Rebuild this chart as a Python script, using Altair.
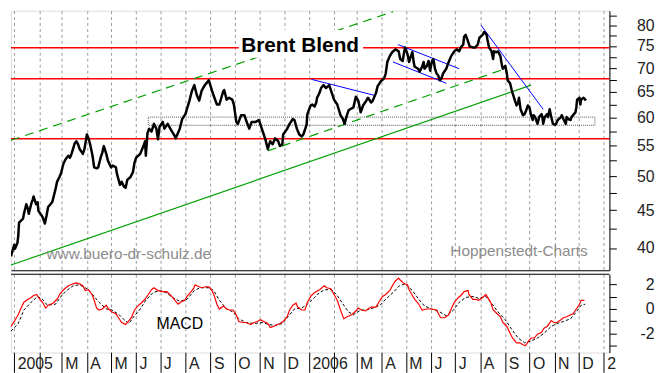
import altair as alt
import pandas as pd

# ---------------- data ----------------
price_series = [
    ("2004-12-28", 38.97), ("2004-12-31", 40.03), ("2005-01-01", 40.40), ("2005-01-02", 39.91),
    ("2005-01-05", 40.64), ("2005-01-06", 41.51), ("2005-01-07", 43.29), ("2005-01-12", 43.82),
    ("2005-01-13", 44.48), ("2005-01-16", 45.84), ("2005-01-18", 45.16), ("2005-01-19", 44.48),
    ("2005-01-22", 45.84), ("2005-01-24", 46.54), ("2005-01-25", 46.96), ("2005-01-28", 45.84),
    ("2005-01-30", 46.11), ("2005-01-31", 44.89), ("2005-02-05", 44.08), ("2005-02-08", 43.16),
    ("2005-02-10", 44.21), ("2005-02-12", 45.43), ("2005-02-17", 46.11), ("2005-02-18", 46.54),
    ("2005-02-21", 47.96), ("2005-02-23", 49.13), ("2005-02-26", 49.88), ("2005-02-28", 50.48),
    ("2005-03-03", 52.02), ("2005-03-06", 52.81), ("2005-03-09", 53.29), ("2005-03-11", 52.97),
    ("2005-03-13", 53.61), ("2005-03-17", 55.42), ("2005-03-19", 55.75), ("2005-03-21", 55.25),
    ("2005-03-23", 54.43), ("2005-03-27", 53.61), ("2005-03-29", 54.43), ("2005-04-01", 56.94),
    ("2005-04-03", 56.26), ("2005-04-05", 55.25), ("2005-04-08", 53.29), ("2005-04-10", 51.40),
    ("2005-04-13", 51.25), ("2005-04-15", 51.40), ("2005-04-18", 52.97), ("2005-04-20", 53.78),
    ("2005-04-22", 54.92), ("2005-04-25", 53.61), ("2005-04-27", 52.49), ("2005-05-01", 51.40),
    ("2005-05-03", 51.71), ("2005-05-07", 51.40), ("2005-05-08", 50.48), ("2005-05-12", 48.69),
    ("2005-05-14", 49.13), ("2005-05-17", 48.40), ("2005-05-19", 48.25), ("2005-05-21", 49.43),
    ("2005-05-25", 49.88), ("2005-05-28", 50.64), ("2005-05-30", 52.18), ("2005-06-01", 52.97),
    ("2005-06-06", 53.61), ("2005-06-10", 54.92), ("2005-06-12", 55.75), ("2005-06-13", 53.29),
    ("2005-06-15", 57.12), ("2005-06-17", 57.98), ("2005-06-20", 57.46), ("2005-06-23", 58.86),
    ("2005-06-26", 57.98), ("2005-06-28", 56.09), ("2005-06-30", 58.33), ("2005-07-04", 59.21),
    ("2005-07-06", 57.98), ("2005-07-10", 58.86), ("2005-07-14", 57.81), ("2005-07-19", 56.60),
    ("2005-07-20", 56.26), ("2005-07-25", 57.98), ("2005-07-28", 59.75), ("2005-08-01", 60.66),
    ("2005-08-06", 63.27), ("2005-08-09", 65.20), ("2005-08-12", 66.39), ("2005-08-15", 64.42),
    ("2005-08-18", 63.27), ("2005-08-21", 65.20), ("2005-08-25", 66.39), ("2005-08-30", 67.39),
    ("2005-09-03", 65.20), ("2005-09-05", 64.23), ("2005-09-09", 62.51), ("2005-09-12", 62.51),
    ("2005-09-17", 65.20), ("2005-09-18", 65.40), ("2005-09-21", 63.46), ("2005-09-24", 63.84),
    ("2005-09-28", 63.46), ("2005-09-30", 62.51), ("2005-10-03", 59.21), ("2005-10-05", 58.86),
    ("2005-10-09", 60.47), ("2005-10-13", 60.47), ("2005-10-15", 59.57), ("2005-10-19", 57.98),
    ("2005-10-22", 59.21), ("2005-10-27", 59.21), ("2005-10-31", 59.57), ("2005-11-02", 58.68),
    ("2005-11-06", 56.94), ("2005-11-08", 56.09), ("2005-11-11", 54.43), ("2005-11-12", 54.92),
    ("2005-11-14", 55.75), ("2005-11-17", 55.25), ("2005-11-20", 56.26), ("2005-11-24", 55.75),
    ("2005-11-26", 54.92), ("2005-11-29", 55.25), ("2005-11-30", 56.94), ("2005-12-05", 57.98),
    ("2005-12-08", 58.86), ("2005-12-12", 59.75), ("2005-12-14", 59.57), ("2005-12-17", 57.98),
    ("2005-12-20", 56.94), ("2005-12-23", 56.60), ("2005-12-25", 56.94), ("2005-12-29", 58.68),
    ("2005-12-30", 60.66), ("2006-01-03", 62.32), ("2006-01-05", 62.51), ("2006-01-08", 62.13),
    ("2006-01-10", 62.89), ("2006-01-11", 63.84), ("2006-01-14", 64.81), ("2006-01-16", 65.79),
    ("2006-01-19", 66.39), ("2006-01-22", 65.79), ("2006-01-26", 66.39), ("2006-01-28", 65.40),
    ("2006-02-01", 63.46), ("2006-02-05", 62.51), ("2006-02-09", 60.47), ("2006-02-12", 59.75),
    ("2006-02-14", 58.86), ("2006-02-17", 60.47), ("2006-02-19", 61.39), ("2006-02-21", 61.58),
    ("2006-02-25", 61.95), ("2006-02-28", 64.03), ("2006-03-03", 63.27), ("2006-03-06", 61.02),
    ("2006-03-09", 62.32), ("2006-03-13", 63.27), ("2006-03-15", 63.84), ("2006-03-19", 62.89),
    ("2006-03-21", 63.27), ("2006-03-25", 64.81), ("2006-03-27", 66.19), ("2006-03-31", 67.19),
    ("2006-04-04", 67.80), ("2006-04-06", 68.83), ("2006-04-08", 71.36), ("2006-04-11", 72.66),
    ("2006-04-14", 73.54), ("2006-04-18", 74.21), ("2006-04-22", 73.76), ("2006-04-24", 72.01),
    ("2006-04-27", 71.58), ("2006-04-29", 73.76), ("2006-04-30", 74.66), ("2006-05-03", 73.10),
    ("2006-05-05", 71.36), ("2006-05-06", 72.01), ("2006-05-09", 73.54), ("2006-05-11", 70.93),
    ("2006-05-12", 70.29), ("2006-05-16", 69.87), ("2006-05-18", 69.24), ("2006-05-21", 70.29),
    ("2006-05-23", 71.36), ("2006-05-24", 69.87), ("2006-05-27", 70.50), ("2006-05-29", 71.58),
    ("2006-05-31", 69.45), ("2006-06-02", 71.36), ("2006-06-04", 72.01), ("2006-06-06", 69.87),
    ("2006-06-08", 68.83), ("2006-06-10", 68.42), ("2006-06-12", 67.39), ("2006-06-14", 67.80),
    ("2006-06-16", 68.83), ("2006-06-20", 69.87), ("2006-06-23", 71.36), ("2006-06-26", 72.66),
    ("2006-06-30", 73.76), ("2006-07-03", 74.21), ("2006-07-06", 73.76), ("2006-07-08", 74.66),
    ("2006-07-11", 75.33), ("2006-07-12", 77.17), ("2006-07-14", 77.63), ("2006-07-17", 76.01),
    ("2006-07-19", 74.88), ("2006-07-23", 74.66), ("2006-07-26", 74.66), ("2006-07-29", 75.33),
    ("2006-07-31", 76.93), ("2006-08-04", 77.63), ("2006-08-06", 78.34), ("2006-08-09", 77.63),
    ("2006-08-10", 76.47), ("2006-08-12", 74.66), ("2006-08-15", 73.76), ("2006-08-17", 72.01),
    ("2006-08-18", 73.76), ("2006-08-21", 73.54), ("2006-08-23", 73.76), ("2006-08-26", 72.66),
    ("2006-08-28", 70.50), ("2006-08-29", 69.87), ("2006-09-01", 70.50), ("2006-09-03", 68.83),
    ("2006-09-04", 67.39), ("2006-09-07", 66.79), ("2006-09-09", 65.40), ("2006-09-10", 64.81),
    ("2006-09-13", 63.27), ("2006-09-15", 62.32), ("2006-09-17", 62.89), ("2006-09-18", 63.84),
    ("2006-09-20", 61.58), ("2006-09-23", 60.47), ("2006-09-25", 60.66), ("2006-09-27", 61.39),
    ("2006-09-29", 62.32), ("2006-10-01", 61.95), ("2006-10-03", 60.47), ("2006-10-05", 59.57),
    ("2006-10-06", 60.47), ("2006-10-08", 60.11), ("2006-10-11", 58.86), ("2006-10-13", 60.11),
    ("2006-10-16", 60.66), ("2006-10-17", 60.11), ("2006-10-18", 58.86), ("2006-10-20", 60.11),
    ("2006-10-23", 60.66), ("2006-10-24", 60.11), ("2006-10-26", 61.58), ("2006-10-28", 60.11),
    ("2006-10-30", 58.86), ("2006-11-02", 58.68), ("2006-11-03", 58.86), ("2006-11-05", 59.57),
    ("2006-11-09", 60.11), ("2006-11-10", 60.47), ("2006-11-12", 59.75), ("2006-11-15", 58.86),
    ("2006-11-16", 60.11), ("2006-11-18", 59.75), ("2006-11-21", 59.57), ("2006-11-22", 60.11),
    ("2006-11-24", 60.47), ("2006-11-27", 61.02), ("2006-11-28", 61.95), ("2006-11-29", 63.46),
    ("2006-12-02", 63.84), ("2006-12-03", 62.51), ("2006-12-04", 63.46), ("2006-12-07", 63.84),
    ("2006-12-09", 63.46), ("2006-12-10", 63.65),
]

macd_series = [
    ("2004-12-28", -1.42), ("2005-01-01", -1.02), ("2005-01-06", -0.47), ("2005-01-09", 0.0),
    ("2005-01-13", 0.55), ("2005-01-18", 0.79), ("2005-01-22", 0.94), ("2005-01-25", 1.10),
    ("2005-01-29", 1.18), ("2005-01-31", 0.94), ("2005-02-05", 0.55), ("2005-02-09", 0.08),
    ("2005-02-12", 0.31), ("2005-02-18", 0.47), ("2005-02-23", 0.79), ("2005-02-27", 1.26),
    ("2005-03-03", 1.57), ("2005-03-09", 1.89), ("2005-03-15", 2.05), ("2005-03-19", 2.12),
    ("2005-03-23", 2.05), ("2005-03-27", 1.89), ("2005-03-30", 1.50), ("2005-04-03", 1.57),
    ("2005-04-08", 1.10), ("2005-04-10", 0.71), ("2005-04-13", 0.08), ("2005-04-16", -0.08),
    ("2005-04-20", 0.0), ("2005-04-25", 0.31), ("2005-04-28", 0.0), ("2005-05-02", -0.24),
    ("2005-05-07", -0.39), ("2005-05-11", -0.79), ("2005-05-14", -1.10), ("2005-05-19", -1.26),
    ("2005-05-21", -1.10), ("2005-05-26", -0.71), ("2005-05-30", -0.08), ("2005-06-04", 0.31),
    ("2005-06-07", 0.47), ("2005-06-12", 0.79), ("2005-06-16", 1.18), ("2005-06-20", 1.57),
    ("2005-06-23", 1.73), ("2005-06-28", 1.50), ("2005-07-04", 1.42), ("2005-07-09", 1.42),
    ("2005-07-14", 1.10), ("2005-07-19", 0.71), ("2005-07-23", 0.39), ("2005-07-26", 0.55),
    ("2005-07-31", 0.71), ("2005-08-03", 1.02), ("2005-08-07", 1.34), ("2005-08-11", 1.65),
    ("2005-08-13", 1.97), ("2005-08-18", 1.81), ("2005-08-21", 1.73), ("2005-08-26", 1.81),
    ("2005-08-30", 1.81), ("2005-09-03", 1.50), ("2005-09-06", 1.02), ("2005-09-09", 0.39),
    ("2005-09-12", 0.0), ("2005-09-17", 0.24), ("2005-09-21", 0.0), ("2005-09-24", -0.08),
    ("2005-09-29", -0.08), ("2005-10-03", -0.47), ("2005-10-06", -1.02), ("2005-10-11", -1.10),
    ("2005-10-15", -1.10), ("2005-10-21", -1.26), ("2005-10-25", -1.10), ("2005-10-29", -1.02),
    ("2005-11-02", -0.87), ("2005-11-06", -1.02), ("2005-11-11", -1.18), ("2005-11-14", -1.50),
    ("2005-11-18", -1.42), ("2005-11-23", -1.26), ("2005-11-26", -1.18), ("2005-11-30", -1.02),
    ("2005-12-05", -0.63), ("2005-12-08", -0.08), ("2005-12-12", 0.31), ("2005-12-16", 0.47),
    ("2005-12-18", 0.16), ("2005-12-23", -0.08), ("2005-12-27", -0.08), ("2005-12-30", 0.55),
    ("2006-01-04", 1.10), ("2006-01-08", 1.34), ("2006-01-14", 1.57), ("2006-01-20", 1.89),
    ("2006-01-23", 1.73), ("2006-01-28", 1.65), ("2006-02-01", 1.18), ("2006-02-05", 0.71),
    ("2006-02-09", -0.08), ("2006-02-13", -0.79), ("2006-02-17", -0.63), ("2006-02-23", -0.47),
    ("2006-02-28", -0.16), ("2006-03-03", 0.08), ("2006-03-07", -0.08), ("2006-03-12", -0.16),
    ("2006-03-15", 0.0), ("2006-03-19", 0.16), ("2006-03-25", 0.16), ("2006-03-30", 0.71),
    ("2006-04-02", 1.02), ("2006-04-06", 1.18), ("2006-04-11", 1.50), ("2006-04-15", 1.97),
    ("2006-04-18", 2.28), ("2006-04-22", 2.52), ("2006-04-24", 2.36), ("2006-04-29", 2.05),
    ("2006-05-03", 1.97), ("2006-05-05", 1.57), ("2006-05-09", 1.10), ("2006-05-12", 0.79),
    ("2006-05-17", 0.39), ("2006-05-21", -0.08), ("2006-05-27", 0.0), ("2006-06-02", 0.0),
    ("2006-06-08", -0.08), ("2006-06-13", -0.71), ("2006-06-18", -0.71), ("2006-06-23", -0.47),
    ("2006-06-26", 0.0), ("2006-06-30", 0.55), ("2006-07-05", 0.94), ("2006-07-08", 1.10),
    ("2006-07-12", 1.42), ("2006-07-17", 1.50), ("2006-07-18", 1.18), ("2006-07-23", 0.79),
    ("2006-07-26", 0.79), ("2006-07-30", 0.71), ("2006-08-04", 0.94), ("2006-08-08", 1.18),
    ("2006-08-11", 0.87), ("2006-08-14", 0.55), ("2006-08-17", -0.08), ("2006-08-22", -0.39),
    ("2006-08-26", -0.63), ("2006-08-29", -1.10), ("2006-09-03", -1.42), ("2006-09-07", -1.97),
    ("2006-09-10", -2.36), ("2006-09-15", -2.75), ("2006-09-19", -2.75), ("2006-09-23", -2.91),
    ("2006-09-26", -2.99), ("2006-09-30", -2.60), ("2006-10-03", -2.36), ("2006-10-07", -2.36),
    ("2006-10-11", -2.05), ("2006-10-16", -1.89), ("2006-10-19", -1.57), ("2006-10-23", -1.42),
    ("2006-10-28", -0.94), ("2006-10-31", -1.10), ("2006-11-04", -1.10), ("2006-11-09", -0.87),
    ("2006-11-12", -0.71), ("2006-11-16", -0.63), ("2006-11-21", -0.47), ("2006-11-24", -0.39),
    ("2006-11-28", 0.0), ("2006-12-02", 0.39), ("2006-12-04", 0.71), ("2006-12-08", 0.71),
]

signal_series = [
    ("2004-12-28", -1.81), ("2005-01-06", -1.18), ("2005-01-13", -0.08), ("2005-01-22", 0.55),
    ("2005-01-30", 1.02), ("2005-02-05", 0.79), ("2005-02-11", 0.31), ("2005-02-21", 0.39),
    ("2005-03-01", 1.10), ("2005-03-07", 1.50), ("2005-03-15", 1.89), ("2005-03-23", 1.97),
    ("2005-04-01", 1.65), ("2005-04-08", 1.18), ("2005-04-16", 0.55), ("2005-04-25", 0.0),
    ("2005-05-02", -0.08), ("2005-05-11", -0.47), ("2005-05-17", -0.87), ("2005-05-23", -1.18),
    ("2005-05-29", -0.63), ("2005-06-06", 0.0), ("2005-06-13", 0.71), ("2005-06-22", 1.34),
    ("2005-06-30", 1.50), ("2005-07-08", 1.34), ("2005-07-16", 0.94), ("2005-07-25", 0.63),
    ("2005-08-03", 0.79), ("2005-08-12", 1.50), ("2005-08-19", 1.73), ("2005-08-30", 1.73),
    ("2005-09-05", 1.50), ("2005-09-12", 0.71), ("2005-09-21", 0.0), ("2005-09-29", -0.24),
    ("2005-10-06", -0.79), ("2005-10-15", -1.10), ("2005-10-25", -1.18), ("2005-11-05", -1.10),
    ("2005-11-12", -1.26), ("2005-11-20", -1.34), ("2005-11-29", -1.18), ("2005-12-06", -0.63),
    ("2005-12-14", 0.0), ("2005-12-23", 0.08), ("2005-12-30", 0.39), ("2006-01-08", 0.94),
    ("2006-01-11", 1.18), ("2006-01-20", 1.57), ("2006-01-29", 1.57), ("2006-02-05", 1.10),
    ("2006-02-13", 0.31), ("2006-02-19", -0.24), ("2006-02-25", -0.47), ("2006-03-06", -0.08),
    ("2006-03-13", -0.08), ("2006-03-21", 0.08), ("2006-03-30", 0.31), ("2006-04-06", 0.79),
    ("2006-04-15", 1.34), ("2006-04-23", 1.89), ("2006-04-30", 2.05), ("2006-05-09", 1.50),
    ("2006-05-17", 0.79), ("2006-05-24", 0.24), ("2006-06-02", 0.0), ("2006-06-12", -0.24),
    ("2006-06-20", -0.55), ("2006-06-29", -0.08), ("2006-07-06", 0.55), ("2006-07-14", 0.94),
    ("2006-07-23", 1.02), ("2006-07-30", 0.87), ("2006-08-08", 1.02), ("2006-08-16", 0.39),
    ("2006-08-23", -0.24), ("2006-09-01", -0.87), ("2006-09-09", -1.65), ("2006-09-17", -2.36),
    ("2006-09-25", -2.75), ("2006-10-03", -2.60), ("2006-10-11", -2.36), ("2006-10-19", -1.97),
    ("2006-10-28", -1.42), ("2006-11-04", -1.18), ("2006-11-12", -1.02), ("2006-11-21", -0.79),
    ("2006-11-28", -0.24), ("2006-12-04", 0.31), ("2006-12-09", 0.39),
]

# horizontal resistance / support levels (red)
red_levels = [74.6, 67.7, 56.2]

# trend lines: (line id, date, price)
green_solid = [("g1", "2004-12-28", 37.93), ("g1", "2006-10-03", 66.39)]
green_dashed = [("g2", "2004-12-28", 55.92), ("g2", "2006-04-15", 83.45),
                ("g3", "2005-11-11", 54.10), ("g3", "2006-09-01", 69.87)]
blue_lines = [("b1", "2006-01-04", 67.60), ("b1", "2006-03-25", 64.23),
              ("b2", "2006-04-21", 75.33), ("b2", "2006-07-06", 69.87),
              ("b3", "2006-04-15", 71.36), ("b3", "2006-06-20", 66.79),
              ("b4", "2006-08-02", 80.00), ("b4", "2006-10-18", 61.58)]

# dotted range box
range_box = [("2005-06-16", "2006-12-21", 58.6, 60.1)]

# texts
title_text = [("Brent Blend", "2005-12-21", 74.9)]
title_bg = [("2005-10-06", "2006-03-09", 72.3, 78.8)]
watermarks = [("www.buero-dr-schulz.de", "2005-02-10", 39.2),
              ("Hoppenstedt-Charts", "2006-06-25", 39.6)]
macd_label = [("MACD", "2005-07-25", -1.26)]

price_ticks = [40, 42.5, 45, 47.5, 50, 52.5, 55, 57.5, 60, 62.5, 65, 67.5, 70, 72.5, 75, 77.5, 80, 82.5]
macd_ticks = [-3, -2, -1, 0, 1, 2]
PRICE_DOMAIN = [37.32, 83.7]
MACD_DOMAIN = [-3.54, 2.83]

# ---------------- frames ----------------
df_price = pd.DataFrame(price_series, columns=["date", "price"])
df_macd = pd.DataFrame(macd_series, columns=["date", "value"])
df_signal = pd.DataFrame(signal_series, columns=["date", "value"])
df_levels = pd.DataFrame({"level": red_levels})
df_gs = pd.DataFrame(green_solid, columns=["id", "date", "price"])
df_gd = pd.DataFrame(green_dashed, columns=["id", "date", "price"])
df_bl = pd.DataFrame(blue_lines, columns=["id", "date", "price"])
df_box = pd.DataFrame(range_box, columns=["start", "end", "low", "high"])
df_title = pd.DataFrame(title_text, columns=["text", "date", "price"])
df_tbg = pd.DataFrame(title_bg, columns=["start", "end", "low", "high"])
df_wm = pd.DataFrame(watermarks, columns=["text", "date", "price"])
df_ml = pd.DataFrame(macd_label, columns=["text", "date", "value"])

W = 604
H_TOP = 262
H_MACD = 79
FONT = "Liberation Sans"
GRID = "#9a9a9a"

x_scale = alt.Scale(domain=[alt.DateTime(year=2004, month=12, date=28),
                            alt.DateTime(year=2007, month=1, date=8)], nice=False)
month_step = {"interval": "month", "step": 1}

top_x_axis = alt.Axis(title=None, labels=False, ticks=False, domain=True, domainColor="black",
                      grid=True, gridColor=GRID, gridDash=[3, 3], gridWidth=1,
                      tickCount=month_step)
price_scale = alt.Scale(type="log", domain=PRICE_DOMAIN, nice=False, zero=False)
price_axis = alt.Axis(orient="right", title=None, values=price_ticks,
                      labelExpr="datum.value % 5 == 0 ? '' + datum.value : ''",
                      tickSize=7, tickColor="black", domainColor="black",
                      labelFontSize=16, labelAlign="right", labelPadding=38,
                      labelColor="#222222", labelFont=FONT, grid=False)

bottom_x_axis = alt.Axis(title=None, orient="bottom", domain=False, grid=True, gridColor=GRID,
                         gridDash=[3, 3], gridWidth=1, tickCount=month_step,
                         ticks=True, tickSize=20, tickColor="black",
                         labelExpr="month(datum.value) == 0 ? (year(datum.value) == 2007 ? '2' : '' + year(datum.value)) : (month(datum.value) == 1 ? '' : slice(timeFormat(datum.value, '%b'), 0, 1))",
                         labelAlign="left", labelOffset=3, labelPadding=-9, labelBaseline="middle",
                         labelFontSize=16, labelColor="#222222", labelFont=FONT,
                         labelOverlap=False, labelFlush=False)
macd_scale = alt.Scale(domain=MACD_DOMAIN, nice=False, zero=False)
macd_axis = alt.Axis(orient="right", title=None, values=macd_ticks,
                     labelExpr="datum.value % 2 == 0 ? '' + datum.value : ''",
                     tickSize=7, tickColor="black", domainColor="black",
                     labelFontSize=16, labelAlign="right", labelPadding=38,
                     labelColor="#222222", labelFont=FONT, grid=False)


def xt(field="date"):
    return alt.X(f"{field}:T", scale=x_scale, axis=top_x_axis)


def yp(field="price"):
    return alt.Y(f"{field}:Q", scale=price_scale, axis=price_axis)


def xb(field="date"):
    return alt.X(f"{field}:T", scale=x_scale, axis=bottom_x_axis)


def ym(field="value"):
    return alt.Y(f"{field}:Q", scale=macd_scale, axis=macd_axis)


# ---------------- top panel ----------------
box = alt.Chart(df_box).mark_rect(fillOpacity=0, stroke="#555555", strokeWidth=1,
                                  strokeDash=[1, 1]).encode(
    x=xt("start"), x2="end:T", y=yp("low"), y2="high:Q")
levels = alt.Chart(df_levels).mark_rule(color="#ff0000", strokeWidth=1.5).encode(y=yp("level"))
gsolid = alt.Chart(df_gs).mark_line(color="#00a000", strokeWidth=1.2, clip=True).encode(
    x=xt(), y=yp(), detail="id:N")
gdash = alt.Chart(df_gd).mark_line(color="#00a000", strokeWidth=1.2, strokeDash=[9, 6],
                                   clip=True).encode(x=xt(), y=yp(), detail="id:N")
blue = alt.Chart(df_bl).mark_line(color="#0000ff", strokeWidth=1, clip=True).encode(
    x=xt(), y=yp(), detail="id:N")
tbg = alt.Chart(df_tbg).mark_rect(color="white").encode(
    x=xt("start"), x2="end:T", y=yp("low"), y2="high:Q")
title = alt.Chart(df_title).mark_text(font=FONT, fontSize=21, fontWeight="bold", color="black",
                                      align="center", baseline="middle").encode(
    x=xt(), y=yp(), text="text:N")
wm = alt.Chart(df_wm).mark_text(font=FONT, fontSize=15.5, color="#8c8c8c", align="left",
                                baseline="middle").encode(x=xt(), y=yp(), text="text:N")
price_line = alt.Chart(df_price).mark_line(color="black", strokeWidth=2.5, strokeJoin="round",
                                           clip=True).encode(x=xt(), y=yp())

top = alt.layer(box, levels, gsolid, gdash, blue, tbg, title, wm, price_line).properties(
    width=W, height=H_TOP)

# ---------------- MACD panel ----------------
top_border = alt.Chart(df_ml).mark_rule(color="black", strokeWidth=1).encode(
    y=alt.YDatum(MACD_DOMAIN[1], scale=macd_scale, axis=macd_axis))
signal = alt.Chart(df_signal).mark_line(color="black", strokeWidth=1, strokeDash=[3, 2]).encode(
    x=xb(), y=ym())
macd = alt.Chart(df_macd).mark_line(color="#ff0000", strokeWidth=1.2).encode(x=xb(), y=ym())
mlabel = alt.Chart(df_ml).mark_text(font=FONT, fontSize=16, color="black", align="center",
                                    baseline="middle").encode(x=xb(), y=ym(), text="text:N")

bottom = alt.layer(top_border, signal, macd, mlabel).properties(width=W, height=H_MACD)

chart = alt.vconcat(top, bottom, spacing=2).properties(padding=0).configure_view(
    stroke=None).configure(font=FONT, background="white")

chart.save("out.html", embed_options={"renderer": "svg", "actions": False})
